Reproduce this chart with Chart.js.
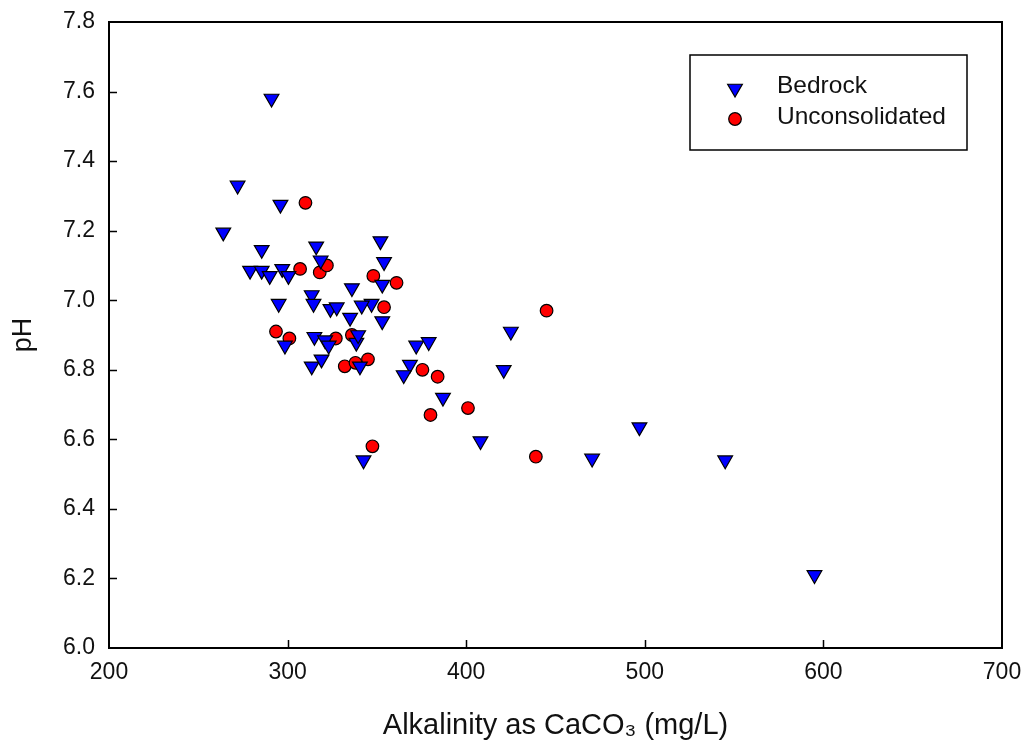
<!DOCTYPE html>
<html>
<head>
<meta charset="utf-8">
<title>pH vs Alkalinity</title>
<script src="https://cdn.jsdelivr.net/npm/chart.js@4.4.1/dist/chart.umd.min.js"></script>
<style>
  html, body { margin: 0; padding: 0; background: #fff; }
  #wrap { width: 1029px; height: 751px; }
</style>
</head>
<body>
<div id="wrap">
  <canvas id="chart" width="1029" height="751" role="img" aria-label="Scatter plot of pH against alkalinity for bedrock and unconsolidated wells"></canvas>
</div>
<script>
// values
const bedrockAlk = [
  291, 272, 296, 264, 285.5, 279, 285.5, 290, 297, 300.5,
  316, 318.5, 352, 354, 353, 336, 313.5, 314.5, 295, 324,
  327.5, 347, 341.5, 335, 353, 298.5, 315, 321, 323, 338.5,
  339.5, 313.5, 319, 340.5, 372, 379, 368.5, 365, 387, 425,
  421, 342.5, 408, 470.5, 497, 545, 595
];
const bedrockPH = [
  7.58, 7.33, 7.275, 7.195, 7.145, 7.085, 7.085, 7.07, 7.09, 7.07,
  7.155, 7.115, 7.17, 7.11, 7.045, 7.035, 7.015, 6.99, 6.99, 6.975,
  6.98, 6.99, 6.985, 6.95, 6.94, 6.87, 6.895, 6.885, 6.87, 6.878,
  6.90, 6.81, 6.83, 6.81, 6.87, 6.88, 6.815, 6.785, 6.72, 6.91,
  6.80, 6.54, 6.595, 6.545, 6.635, 6.54, 6.21
];
const unconsAlk = [
  310, 307, 318, 322, 348, 361, 354, 293.5, 301, 327,
  336, 332, 338, 345, 375.5, 384, 380, 401, 347.5, 439, 445
];
const unconsPH = [
  7.28, 7.09, 7.08, 7.10, 7.07, 7.05, 6.98, 6.91, 6.89, 6.89,
  6.90, 6.81, 6.82, 6.83, 6.80, 6.78, 6.67, 6.69, 6.58, 6.55, 6.97
];
const seriesNames = ['Bedrock', 'Unconsolidated'];
const xTicks = [200, 300, 400, 500, 600, 700];
const yTicks = [6.0, 6.2, 6.4, 6.6, 6.8, 7.0, 7.2, 7.4, 7.6, 7.8];

const FONT = "'Liberation Sans', Arial, Helvetica, sans-serif";

const toPoints = (xs, ys) => xs.map((x, i) => ({ x, y: ys[i] }));

// box around the plot area plus short inward ticks (SigmaPlot style)
const frameTicks = {
  id: 'frameTicks',
  beforeDatasetsDraw(chart) {
    const { ctx, chartArea: a, scales } = chart;
    ctx.save();
    ctx.strokeStyle = '#000';
    ctx.lineWidth = 2;
    ctx.strokeRect(a.left, a.top, a.right - a.left, a.bottom - a.top);
    ctx.lineWidth = 1.5;
    ctx.beginPath();
    yTicks.slice(1, -1).forEach((v) => {
      const py = Math.round(scales.y.getPixelForValue(v)) + 0.5;
      ctx.moveTo(a.left, py);
      ctx.lineTo(a.left + 8, py);
    });
    xTicks.slice(1, -1).forEach((v) => {
      const px = Math.round(scales.x.getPixelForValue(v)) + 0.5;
      ctx.moveTo(px, a.bottom);
      ctx.lineTo(px, a.bottom - 8);
    });
    ctx.stroke();
    ctx.restore();
  },
};

function drawSymbol(ctx, ds, x, y) {
  const r = ds.pointRadius;
  ctx.beginPath();
  if (ds.pointStyle === 'triangle') {
    let rad = (ds.pointRotation || 0) * Math.PI / 180;
    for (let k = 0; k < 3; k++) {
      const px = x + Math.sin(rad) * r;
      const py = y - Math.cos(rad) * r;
      if (k === 0) ctx.moveTo(px, py); else ctx.lineTo(px, py);
      rad += 2 * Math.PI / 3;
    }
    ctx.closePath();
  } else {
    ctx.arc(x, y, r, 0, Math.PI * 2);
  }
  ctx.fillStyle = ds.backgroundColor;
  ctx.fill();
  ctx.lineWidth = ds.borderWidth;
  ctx.strokeStyle = ds.borderColor;
  ctx.stroke();
}

// legend box sitting inside the plot, top right
const insideLegend = {
  id: 'insideLegend',
  afterDraw(chart) {
    const { ctx } = chart;
    const box = { x: 690, y: 55, w: 277, h: 95 };
    ctx.save();
    ctx.fillStyle = '#fff';
    ctx.fillRect(box.x, box.y, box.w, box.h);
    ctx.strokeStyle = '#000';
    ctx.lineWidth = 1.5;
    ctx.strokeRect(box.x, box.y, box.w, box.h);
    const rows = [88.5, 119];
    const textRows = [86.5, 117.5];
    chart.data.datasets.forEach((ds, i) => {
      drawSymbol(ctx, ds, 735, rows[i]);
      ctx.fillStyle = '#111';
      ctx.font = `24.5px ${FONT}`;
      ctx.textAlign = 'left';
      ctx.textBaseline = 'middle';
      ctx.fillText(ds.label, 777, textRows[i]);
    });
    ctx.restore();
  },
};

new Chart(document.getElementById('chart'), {
  type: 'scatter',
  data: {
    datasets: [
      {
        label: seriesNames[0],
        data: toPoints(bedrockAlk, bedrockPH),
        pointStyle: 'triangle',
        pointRotation: 180,
        pointRadius: 8.5,
        backgroundColor: '#0000ff',
        borderColor: '#000',
        borderWidth: 1.2,
      },
      {
        label: seriesNames[1],
        data: toPoints(unconsAlk, unconsPH),
        pointStyle: 'circle',
        pointRadius: 6.3,
        backgroundColor: '#ff0000',
        borderColor: '#000',
        borderWidth: 1.2,
      },
    ],
  },
  options: {
    responsive: false,
    devicePixelRatio: 1,
    animation: false,
    layout: { padding: { left: 0, top: 22, right: 27, bottom: 0 } },
    plugins: {
      legend: { display: false },
      tooltip: { enabled: false },
    },
    scales: {
      x: {
        type: 'linear',
        min: 200,
        max: 700,
        afterBuildTicks: (s) => { s.ticks = xTicks.map((v) => ({ value: v })); },
        afterFit: (s) => {
          s.height = 103;
          s.paddingLeft = 0;
          s.paddingRight = 0;
        },
        grid: { display: false, drawTicks: false },
        border: { display: false },
        ticks: {
          padding: 11,
          color: '#111',
          font: { family: FONT, size: 23 },
          callback: (v) => String(v),
        },
        title: {
          display: true,
          text: 'Alkalinity as CaCO\u2083 (mg/L)',
          color: '#111',
          font: { family: FONT, size: 29 },
          padding: { top: 0, bottom: 8 },
        },
      },
      y: {
        type: 'linear',
        min: 6.0,
        max: 7.8,
        afterBuildTicks: (s) => { s.ticks = yTicks.map((v) => ({ value: v })); },
        afterFit: (s) => {
          s.width = 109;
          s.paddingTop = 0;
          s.paddingBottom = 0;
        },
        grid: { display: false, drawTicks: false },
        border: { display: false },
        ticks: {
          padding: 14,
          color: '#111',
          font: { family: FONT, size: 23 },
          callback: (v) => Number(v).toFixed(1),
        },
        title: {
          display: true,
          text: 'pH',
          color: '#111',
          font: { family: FONT, size: 27 },
          padding: { top: 7, bottom: 0 },
        },
      },
    },
  },
  plugins: [frameTicks, insideLegend],
});
</script>
</body>
</html>
